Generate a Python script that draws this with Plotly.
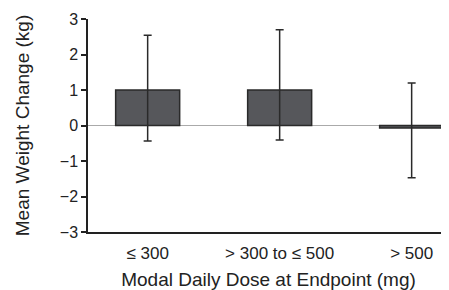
import plotly.graph_objects as go

categories = ["≤ 300", "> 300 to ≤ 500", "> 500"]
means = [1.0, 1.0, -0.07]
err_plus = [1.54, 1.70, 1.27]
err_minus = [1.44, 1.41, 1.40]
y_ticks = [3, 2, 1, 0, -1, -2, -3]
y_tick_text = ["3", "2", "1", "0", "\u22121", "\u22122", "\u22123"]

fig = go.Figure()
fig.add_trace(go.Bar(
    x=[0, 1, 2], y=means, width=0.485,
    marker=dict(color="#56575b", line=dict(color="#2a2a2a", width=1.5)),
    error_y=dict(type="data", symmetric=False, array=err_plus, arrayminus=err_minus,
                 color="#2a2a2a", thickness=1.5, width=4),
))
# page body has an 8px margin (top/left), so the figure is shrunk by 8px
fig.update_layout(
    width=441, height=282,
    margin=dict(l=80, r=0, t=11, b=58),
    plot_bgcolor="white", paper_bgcolor="white",
    font=dict(family="Liberation Sans, Arial, sans-serif", size=15, color="#222"),
    showlegend=False,
    xaxis=dict(range=[-0.452, 2.283], tickvals=[0, 1, 2], ticktext=categories,
               showline=True, linecolor="#222", linewidth=1.5, ticks="",
               showgrid=False, zeroline=False, ticklabelstandoff=5,
               title=dict(text="Modal Daily Dose at Endpoint (mg)", font=dict(size=19), standoff=12),
               tickfont=dict(size=17)),
    yaxis=dict(range=[-3, 3], tickvals=y_ticks, ticktext=y_tick_text,
               showline=True, linecolor="#222", linewidth=1.5, ticks="outside",
               ticklen=5, tickwidth=1.5, tickcolor="#222",
               showgrid=False, zeroline=True, zerolinecolor="#aaaaaa", zerolinewidth=1.2,
               title=dict(text="Mean Weight Change (kg)", font=dict(size=19), standoff=25),
               tickfont=dict(size=16)),
)
fig.write_html("out.html")
